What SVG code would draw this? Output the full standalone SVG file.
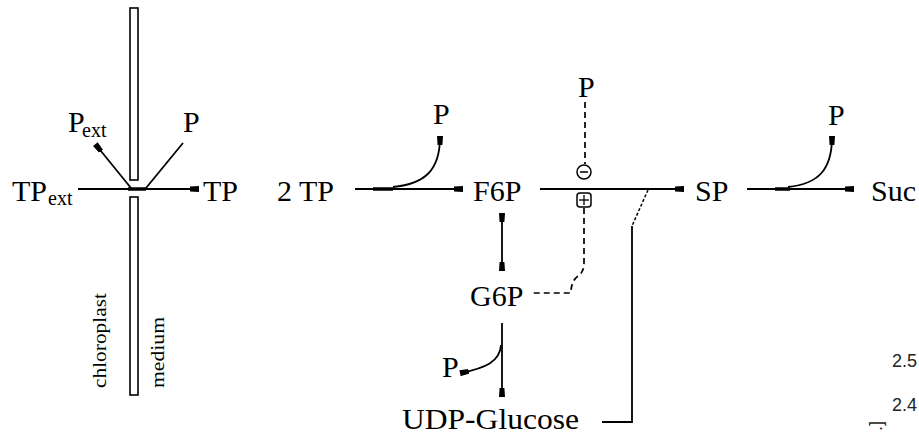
<svg xmlns="http://www.w3.org/2000/svg" width="919" height="437" viewBox="0 0 919 437">
<defs>
<style>
.t{font-family:"Liberation Serif","Times New Roman",serif;font-size:30px;fill:#000}
.s{font-family:"Liberation Serif","Times New Roman",serif;font-size:20px;fill:#000}
.r{font-family:"Liberation Serif","Times New Roman",serif;font-size:18px;fill:#000}
.a{font-family:"Liberation Sans",Arial,sans-serif;font-size:18px;fill:#222}
.ln{fill:none;stroke:#000;stroke-width:1.8}
.th{fill:none;stroke:#000;stroke-width:3.5}
.ds{fill:none;stroke:#000;stroke-width:1.7;stroke-dasharray:6,4}
.dt{fill:none;stroke:#000;stroke-width:1.5;stroke-dasharray:3,2}
.mem{fill:#fff;stroke:#000;stroke-width:1.6}
</style>
<marker id="ah" markerUnits="userSpaceOnUse" markerWidth="10" markerHeight="8" refX="8" refY="3" orient="auto-start-reverse">
<path d="M0,0.6 L9,0 L9,6 L0,5.4 z" fill="#000"/>
</marker>
</defs>
<rect width="919" height="437" fill="#fff"/>

<g id="membrane">
<rect class="mem" x="130" y="8" width="8" height="172"/>
<rect class="mem" x="130" y="197" width="8" height="198"/>
<text class="r" transform="translate(106,388) rotate(-90)" textLength="95" lengthAdjust="spacingAndGlyphs">chloroplast</text>
<text class="r" transform="translate(164,388) rotate(-90)" textLength="71" lengthAdjust="spacingAndGlyphs">medium</text>
</g>

<g id="connectors">
<line class="ln" x1="78" y1="189" x2="198" y2="189" marker-end="url(#ah)"/>
<line class="th" x1="128" y1="189" x2="146" y2="189"/>
<path class="ln" d="M131,188 L96,145" marker-end="url(#ah)"/>
<path class="ln" d="M146,188 L183,143"/>

<line class="ln" x1="355" y1="189" x2="462" y2="189" marker-end="url(#ah)"/>
<line class="th" x1="373" y1="189" x2="393" y2="189"/>
<path class="ln" d="M393,187 C425,184 440,170 440,137" marker-end="url(#ah)"/>

<line class="ln" x1="540" y1="189" x2="683" y2="189" marker-end="url(#ah)"/>
<line class="ds" x1="585" y1="102" x2="585" y2="164"/>
<path class="ds" d="M584,208 V263 Q584,272 578,276 Q571,281 571,293 H533"/>
<line class="dt" x1="648" y1="190" x2="632" y2="226"/>
<polyline class="ln" points="632,226 632,422 602,422"/>

<line class="ln" x1="502" y1="214" x2="502" y2="270" marker-start="url(#ah)" marker-end="url(#ah)"/>
<line class="ln" x1="502" y1="323" x2="502" y2="396" marker-end="url(#ah)"/>
<path class="ln" d="M501,345 C500,362 485,368 461,373" marker-end="url(#ah)"/>

<line class="ln" x1="747" y1="189" x2="853" y2="189" marker-end="url(#ah)"/>
<line class="th" x1="775" y1="189" x2="790" y2="189"/>
<path class="ln" d="M788,187 C818,184 832,170 832,137" marker-end="url(#ah)"/>
</g>

<g id="inhib">
<circle cx="584" cy="172" r="7" fill="#fff" stroke="#000" stroke-width="1.5"/>
<line x1="580" y1="172" x2="588" y2="172" stroke="#000" stroke-width="1.5"/>
</g>
<g id="activ">
<rect x="577" y="193" width="14" height="14" rx="3" fill="#fff" stroke="#000" stroke-width="1.5"/>
<line x1="584" y1="195" x2="584" y2="205" stroke="#000" stroke-width="1.3"/>
<line x1="579" y1="200" x2="589" y2="200" stroke="#000" stroke-width="1.3"/>
</g>

<g id="TPext"><text class="t" x="12" y="201">TP</text><text class="s" x="48" y="205">ext</text></g>
<g id="Pext"><text class="t" x="68" y="132">P</text><text class="s" x="82" y="137">ext</text></g>
<g id="P1"><text class="t" x="183" y="132">P</text></g>
<g id="TP"><text class="t" x="203" y="201">TP</text></g>
<g id="TP2"><text class="t" x="277" y="201">2 TP</text></g>
<g id="P2"><text class="t" x="433" y="124">P</text></g>
<g id="F6P"><text class="t" x="473" y="201">F6P</text></g>
<g id="P3"><text class="t" x="578" y="97">P</text></g>
<g id="SP"><text class="t" x="695" y="201">SP</text></g>
<g id="P4"><text class="t" x="828" y="125">P</text></g>
<g id="Suc"><text class="t" x="871" y="201">Suc</text></g>
<g id="G6P"><text class="t" x="470" y="306">G6P</text></g>
<g id="P5"><text class="t" x="442" y="377">P</text></g>
<g id="UDPG"><text class="t" x="402" y="429" textLength="177" lengthAdjust="spacingAndGlyphs">UDP-Glucose</text></g>

<g id="axis">
<text class="a" x="892" y="367">2.5</text>
<text class="a" x="892" y="411">2.4</text>
<text class="a" transform="translate(882,421) rotate(-90)" text-anchor="end">.]</text>
</g>
</svg>
